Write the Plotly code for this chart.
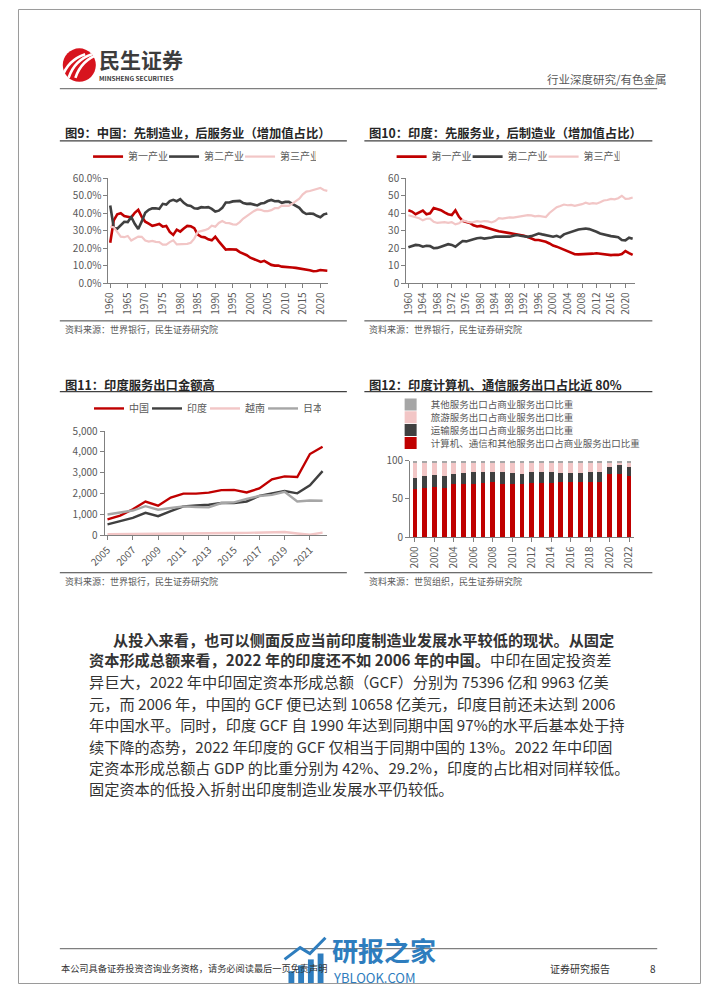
import plotly.graph_objects as go

W, H = 702, 991
def px(x): return x / W
def py(y): return 1 - y / H

FONT = "Noto Sans CJK SC, Noto Sans, sans-serif"
RED = "#C00000"; DARK = "#404040"; PINK = "#F2C6C6"; GRAY = "#A6A6A6"
TXT = "#595959"; AX = "#808080"

# ---------------- data ----------------
years_long = list(range(1960, 2023))
china_primary = [23.2, 36.0, 39.4, 40.0, 38.4, 37.9, 37.6, 40.3, 42.0, 38.0,
                 35.2, 34.1, 32.9, 33.4, 33.9, 32.4, 32.8, 29.4, 27.7, 30.7,
                 29.6, 31.3, 32.8, 32.6, 31.5, 27.9, 26.6, 26.3, 25.2, 24.6,
                 26.6, 24.0, 21.3, 19.3, 19.5, 19.6, 19.3, 17.9, 17.2, 16.1,
                 14.7, 14.0, 13.3, 12.3, 12.9, 11.6, 10.6, 10.2, 10.2, 9.6,
                 9.3, 9.2, 9.1, 8.9, 8.6, 8.4, 8.1, 7.5, 7.0, 7.1,
                 7.7, 7.3, 7.3]
china_secondary = [44.5, 31.9, 31.2, 33.0, 35.2, 35.0, 37.9, 34.0, 31.1, 35.4,
                   40.3, 42.0, 42.8, 42.9, 42.5, 45.4, 45.0, 47.0, 47.7, 46.9,
                   48.1, 46.0, 44.6, 44.2, 42.9, 42.7, 43.5, 43.3, 43.5, 42.5,
                   41.0, 41.5, 43.1, 46.2, 46.2, 46.8, 47.1, 47.1, 45.8, 45.4,
                   45.5, 44.8, 44.5, 45.6, 45.9, 47.0, 47.6, 46.9, 47.0, 46.0,
                   46.5, 46.5, 45.4, 44.2, 43.1, 40.8, 39.6, 39.9, 39.7, 38.6,
                   37.8, 39.4, 39.9]
china_tertiary = [32.3, 32.1, 29.4, 26.7, 26.4, 27.1, 24.5, 25.7, 26.7, 26.6,
                  24.5, 23.9, 24.3, 23.7, 23.6, 22.2, 22.2, 23.6, 24.6, 22.3,
                  22.3, 22.7, 22.6, 23.2, 25.6, 29.4, 29.8, 30.4, 31.2, 32.9,
                  32.4, 34.5, 35.6, 34.5, 34.4, 33.7, 33.6, 35.0, 37.0, 38.6,
                  39.8, 41.2, 42.2, 42.0, 41.2, 41.3, 41.8, 42.9, 42.9, 44.4,
                  44.2, 44.3, 45.5, 46.9, 48.3, 50.8, 52.4, 52.7, 53.3, 54.3,
                  54.5, 53.3, 52.8]

india_primary = [41.7, 41.0, 39.5, 40.5, 41.5, 39.5, 40.0, 43.0, 42.5, 41.8,
                 40.5, 39.5, 39.0, 41.7, 38.0, 35.7, 35.0, 34.5, 33.2, 32.5,
                 32.8, 32.3, 31.5, 31.2, 30.4, 29.8, 29.3, 28.9, 28.7, 28.3,
                 28.0, 27.8, 27.2, 26.5, 25.5, 24.8, 24.8, 24.3, 23.8, 22.8,
                 21.6, 21.0, 20.1, 19.3, 18.2, 17.4, 16.7, 16.6, 16.6, 16.7,
                 16.8, 17.0, 17.2, 17.0, 16.8, 16.3, 16.2, 16.4, 16.3, 16.8,
                 18.5, 17.3, 16.3]
india_secondary = [20.7, 21.3, 22.0, 21.8, 21.0, 21.5, 21.3, 20.1, 20.3, 21.0,
                   21.5, 22.4, 22.0, 21.0, 22.6, 24.2, 24.0, 24.4, 25.2, 25.8,
                   26.1, 25.6, 25.8, 26.2, 26.7, 26.6, 26.8, 26.7, 26.7, 27.2,
                   27.6, 27.2, 26.7, 26.6, 27.0, 27.8, 28.5, 28.0, 27.6, 27.2,
                   26.7, 27.2, 26.3, 28.0, 28.7, 29.5, 30.2, 30.8, 31.1, 31.3,
                   31.0, 30.4, 29.5, 28.5, 27.9, 27.3, 27.0, 26.7, 26.4, 24.8,
                   24.6, 26.1, 25.5]
india_tertiary = [38.9, 38.4, 38.0, 37.2, 36.0, 36.9, 37.0, 35.2, 34.5, 34.8,
                  35.0, 34.6, 35.0, 33.7, 34.3, 36.0, 35.3, 34.8, 35.0, 35.5,
                  35.2, 35.6, 35.4, 34.8, 35.6, 37.2, 37.0, 37.3, 37.7, 37.5,
                  37.8, 38.5, 38.4, 39.0, 38.8, 38.3, 38.5, 38.2, 37.9, 40.2,
                  41.8, 43.5, 44.2, 45.0, 44.6, 44.8, 44.3, 44.6, 45.2, 46.0,
                  45.4, 45.8, 45.5, 46.3, 47.3, 47.6, 48.2, 48.0, 48.6, 50.0,
                  48.2, 48.4, 49.0]
sector_names = ["第一产业", "第二产业", "第三产业"]

years_exp = list(range(2005, 2023))
exp_china = [770, 950, 1250, 1620, 1420, 1810, 2000, 2000, 2050, 2170, 2180, 2060,
             2250, 2690, 2830, 2800, 3900, 4250]
exp_india = [530, 680, 840, 1080, 920, 1160, 1390, 1440, 1470, 1550, 1550, 1625,
             1890, 2015, 2125, 2015, 2400, 3080]
exp_vietnam = [50, 60, 70, 75, 65, 80, 90, 100, 105, 110, 115, 120, 130, 150, 160,
               90, 30, 130]
exp_japan = [1000, 1080, 1190, 1400, 1230, 1310, 1390, 1360, 1340, 1550, 1580, 1750,
             1890, 1940, 2090, 1625, 1670, 1660]
exp_names = ["中国", "印度", "越南", "日本"]

years_bar = list(range(2000, 2023))
share_ict = [63, 64, 65, 64, 69, 70, 70, 71, 71.5, 70, 70, 69, 71, 71, 71, 72, 72,
             72, 72, 72, 82, 83, 80]
share_transport = [14, 15.5, 16, 15.5, 14, 14, 14.5, 13.5, 13.5, 14.5, 14, 14, 13.5,
                   13.5, 13.5, 12, 12, 12, 12.5, 12.5, 10, 12, 11]
share_travel = [20, 17.5, 16, 17.5, 14, 13, 12.5, 12.5, 12, 12.5, 13, 14, 12.5, 12.5,
                12.5, 13, 13, 13, 12.5, 12.5, 5, 2, 6]
share_other = [3] * 23
bar_names = ["计算机、通信和其他服务出口占商业服务出口比重",
             "运输服务出口占商业服务出口比重",
             "旅游服务出口占商业服务出口比重",
             "其他服务出口占商业服务出口比重"]

body_lines = [
    "<b>从投入来看，也可以侧面反应当前印度制造业发展水平较低的现状。从固定</b>",
    "<b>资本形成总额来看，2022 年的印度还不如 2006 年的中国。</b>中印在固定投资差",
    "异巨大，2022 年中印固定资本形成总额（GCF）分别为 75396 亿和 9963 亿美",
    "元，而 2006 年，中国的 GCF 便已达到 10658 亿美元，印度目前还未达到 2006",
    "年中国水平。同时，印度 GCF 自 1990 年达到同期中国 97%的水平后基本处于持",
    "续下降的态势，2022 年印度的 GCF 仅相当于同期中国的 13%。2022 年中印固",
    "定资本形成总额占 GDP 的比重分别为 42%、29.2%，印度的占比相对同样较低。",
    "固定资本的低投入折射出印度制造业发展水平仍较低。",
]

# ---------------- figure ----------------
fig = go.Figure()

for vals, name, color, w in zip([china_primary, china_secondary, china_tertiary],
                                sector_names, [RED, DARK, PINK], [2.6, 2.6, 2.2]):
    fig.add_trace(go.Scatter(x=years_long, y=vals, name=name, mode="lines",
                             line=dict(color=color, width=w), xaxis="x", yaxis="y",
                             legend="legend"))
for vals, name, color, w in zip([india_primary, india_secondary, india_tertiary],
                                sector_names, [RED, DARK, PINK], [2.6, 2.6, 2.2]):
    fig.add_trace(go.Scatter(x=years_long, y=vals, name=name, mode="lines",
                             line=dict(color=color, width=w), xaxis="x2", yaxis="y2",
                             legend="legend2"))
for vals, name, color in zip([exp_china, exp_india, exp_vietnam, exp_japan], exp_names,
                             [RED, DARK, PINK, GRAY]):
    fig.add_trace(go.Scatter(x=years_exp, y=vals, name=name, mode="lines",
                             line=dict(color=color, width=2.4), xaxis="x3", yaxis="y3",
                             legend="legend3"))
for vals, name, color, lg in zip([share_ict, share_transport, share_travel, share_other],
                                 bar_names, [RED, DARK, PINK, GRAY],
                                 ["legend7", "legend6", "legend5", "legend4"]):
    fig.add_trace(go.Bar(x=years_bar, y=vals, name=name, marker=dict(color=color, line=dict(width=0)),
                         xaxis="x4", yaxis="y4", legend=lg))

axis_common = dict(showline=True, linecolor=AX, linewidth=1, ticks="outside", ticklen=4,
                   tickcolor=AX, tickwidth=1, showgrid=False, zeroline=False,
                   tickfont=dict(size=10, color=TXT, family=FONT), fixedrange=True)

def legend_cfg(x, y, orientation="h", entrywidth=None, size=10):
    d = dict(x=px(x), y=py(y), xanchor="left", yanchor="middle", orientation=orientation,
             font=dict(size=size, color=TXT, family=FONT), bgcolor="rgba(0,0,0,0)",
             borderwidth=0, itemwidth=30, tracegroupgap=0, itemclick=False,
             itemdoubleclick=False)
    if entrywidth is not None:
        d.update(entrywidth=entrywidth, entrywidthmode="pixels")
    return d

fig.update_layout(
    width=W, height=H, margin=dict(l=0, r=0, t=0, b=0),
    paper_bgcolor="white", plot_bgcolor="white",
    font=dict(family=FONT, color=TXT),
    barmode="stack", bargap=0.5, showlegend=True,
    xaxis=dict(domain=[px(93), px(319)], range=[1959.5, 2022.3], anchor="y",
               tickvals=list(range(1960, 2021, 5)), tickangle=-90, **axis_common),
    yaxis=dict(domain=[py(279), py(172)], range=[0, 60], anchor="x",
               tickvals=list(range(0, 61, 10)),
               ticktext=["%.1f%%" % v for v in range(0, 61, 10)], **axis_common),
    xaxis2=dict(domain=[px(399), px(634)], range=[1959.4, 2022.6], anchor="y2",
                tickvals=list(range(1960, 2021, 4)), tickangle=-90, **axis_common),
    yaxis2=dict(domain=[py(279), py(172)], range=[0, 60], anchor="x2",
                tickvals=list(range(0, 61, 10)), tickformat="d", ticksuffix="%", **axis_common),
    xaxis3=dict(domain=[px(89), px(318)], range=[2004.77, 2022.38], anchor="y3",
                tickvals=list(range(2005, 2022, 2)), tickangle=-45, **axis_common),
    yaxis3=dict(domain=[py(535), py(429)], range=[0, 5000], anchor="x3",
                tickvals=list(range(0, 5001, 1000)), tickformat=",d", **axis_common),
    xaxis4=dict(domain=[px(403), px(633)], range=[1999.5, 2022.5], anchor="y4",
                tickvals=list(range(2000, 2023, 2)), tickangle=-90, **axis_common),
    yaxis4=dict(domain=[py(537), py(459)], range=[0, 100], anchor="x4",
                tickvals=[0, 50, 100], ticksuffix="%", **axis_common),
    legend=legend_cfg(72, 150, entrywidth=31),
    legend2=legend_cfg(384, 150, entrywidth=31),
    legend3=legend_cfg(73, 406, entrywidth=13),
    legend4=legend_cfg(383, 402, "v", size=9.5),
    legend5=legend_cfg(383, 415, "v", size=9.5),
    legend6=legend_cfg(383, 428, "v", size=9.5),
    legend7=legend_cfg(383, 441, "v", size=9.5),
)

# ---------------- page decorations ----------------
def text(x, y, s, size, color="#333333", xanchor="left", yanchor="middle"):
    fig.add_annotation(x=px(x), y=py(y), xref="paper", yref="paper", text=s,
                       showarrow=False, xanchor=xanchor, yanchor=yanchor,
                       font=dict(size=size, color=color, family=FONT), align="left",
                       borderpad=0)

def hline(x0, x1, y, color="#595959", width=1):
    fig.add_shape(type="line", xref="paper", yref="paper", x0=px(x0), x1=px(x1),
                  y0=py(y), y1=py(y), line=dict(color=color, width=width))

def path(points, close=False):
    s = "M " + " L ".join("%f,%f" % (px(a), py(b)) for a, b in points)
    return s + (" Z" if close else "")

# page frame
fig.add_shape(type="rect", xref="paper", yref="paper", x0=px(0.5), x1=px(701.5),
              y0=py(990.5), y1=py(0.5), line=dict(color="#9a9a9a", width=1))

# logo
fig.add_shape(type="circle", xref="paper", yref="paper", x0=px(46), x1=px(80),
              y0=py(74), y1=py(40), fillcolor="#D7141E", line=dict(width=0))
for off in (-7, 0, 7):
    fig.add_shape(type="path", xref="paper", yref="paper",
                  path="M %f,%f Q %f,%f %f,%f" % (px(52 + off), py(70), px(58 + off), py(52),
                                                  px(76 + off), py(46)),
                  line=dict(color="white", width=2.6))
text(82, 51, "<b>民生证券</b>", 21, "#3c3c3c")
text(82, 70, "<b>MINSHENG SECURITIES</b>", 6.5, "#3c3c3c")
text(668, 71, "行业深度研究/有色金属", 11.5, "#595959", xanchor="right")
hline(43, 657, 81, "#7f7f7f", 1.2)

# chart titles + rules
text(47, 126, "<b>图9：中国：先制造业，后服务业（增加值占比）</b>", 12.3, "#262626")
hline(43, 338, 134, "#404040", 1.2)
text(360, 126, "<b>图10：印度：先服务业，后制造业（增加值占比）</b>", 12.3, "#262626")
hline(356, 652, 134, "#404040", 1.2)
hline(43, 338, 317, "#404040", 1)
hline(356, 652, 317, "#404040", 1)
text(47, 326, "资料来源：世界银行，民生证券研究院", 9, TXT)
text(360, 326, "资料来源：世界银行，民生证券研究院", 9, TXT)

text(47, 382, "<b>图11：印度服务出口金额高</b>", 12.3, "#262626")
hline(43, 338, 389, "#404040", 1.2)
text(360, 382, "<b>图12：印度计算机、通信服务出口占比近 80%</b>", 12.3, "#262626")
hline(356, 652, 389, "#404040", 1.2)
hline(43, 338, 573, "#404040", 1)
hline(356, 652, 573, "#404040", 1)
text(47, 582, "资料来源：世界银行，民生证券研究院", 9, TXT)
text(360, 582, "资料来源：世贸组织，民生证券研究院", 9, TXT)

# body paragraph
body_y = [640, 661, 683, 705, 727, 749, 770, 792]
for i, (ln, yy) in enumerate(zip(body_lines, body_y)):
    text(97 if i == 0 else 72, yy, ln, 15.2, "#333333")

# footer
hline(43, 657, 955, "#7f7f7f", 1.2)
text(43, 975, "本公司具备证券投资咨询业务资格，请务必阅读最后一页免责声明", 9.2, "#333333")
text(546, 975, "证券研究报告", 10, "#333333")
text(649, 975, "8", 10, "#333333")
# watermark
WM = "#2E7DBE"
for i, hgt in enumerate([12, 18, 24, 30]):
    x0 = 278 + i * 10
    fig.add_shape(type="rect", xref="paper", yref="paper", x0=px(x0), x1=px(x0 + 6),
                  y0=py(990), y1=py(990 - hgt), fillcolor=WM, line=dict(width=0))
fig.add_shape(type="path", xref="paper", yref="paper",
              path=path([(274, 966), (290, 954), (300, 960), (316, 944)]),
              line=dict(color=WM, width=3))
text(322, 956, "<b>研报之家</b>", 26, WM)
text(323, 984, "YBLOOK.COM", 13, WM)

fig.write_html("out.html")
